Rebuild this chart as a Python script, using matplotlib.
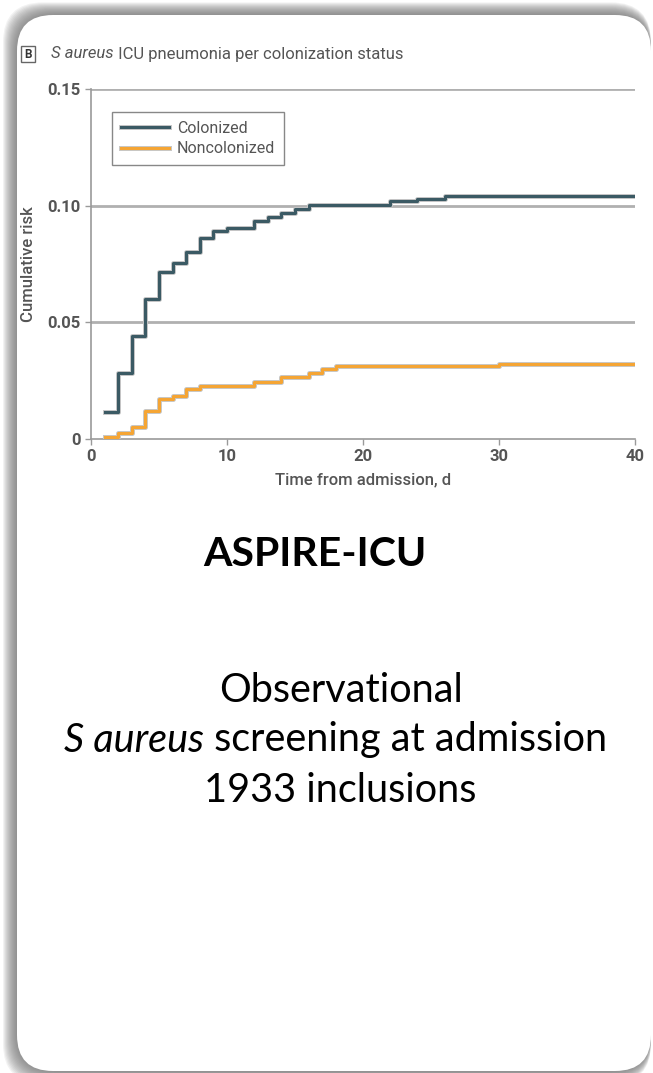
import matplotlib.pyplot as plt
import matplotlib.patheffects as pe
from matplotlib.patches import FancyBboxPatch, Rectangle

# Kaplan-Meier style cumulative risk
col_days = [1, 2, 3, 4, 5, 6, 7, 8, 9, 10, 12, 13, 14, 15, 16, 22, 24, 26, 40]
col_risk = [0.0114, 0.0283, 0.044, 0.0598, 0.0714, 0.0753, 0.080, 0.0862, 0.0893, 0.0905,
            0.0936, 0.0953, 0.097, 0.0986, 0.1004, 0.1018, 0.1028, 0.104, 0.104]

non_days = [1, 2, 3, 4, 5, 6, 7, 8, 12, 14, 16, 17, 18, 30, 40]
non_risk = [0.0007, 0.0027, 0.005, 0.0121, 0.0171, 0.0184, 0.0215, 0.0226, 0.0244,
            0.0264, 0.0283, 0.0298, 0.0312, 0.0323, 0.0323]

x_ticks = [0, 10, 20, 30, 40]
y_ticks = [0, 0.05, 0.10, 0.15]
y_tick_labels = ["0", "0.05", "0.10", "0.15"]

chart_font = ["Roboto", "DejaVu Sans"]
slide_font = ["Lato", "DejaVu Sans"]
grey_txt = "#555555"

W, H = 653, 1073
fig = plt.figure(figsize=(W / 100, H / 100), dpi=100)
renderer = fig.canvas.get_renderer()

# background layer in pixel coords
bg = fig.add_axes([0, 0, 1, 1])
bg.set_xlim(0, W)
bg.set_ylim(H, 0)
bg.axis("off")


def text_width(t):
    bb = t.get_window_extent(renderer=renderer)
    return bb.width


def two_part(x, y, first, rest, size, font, color, center=False, weight="normal"):
    # italic first part followed by upright rest, on one baseline
    a = bg.text(0, y, first, ha="left", va="center", fontsize=size, family=font,
                style="italic", color=color, zorder=4, fontweight=weight)
    b = bg.text(0, y, rest, ha="left", va="center", fontsize=size, family=font,
                color=color, zorder=4, fontweight=weight)
    wa, wb = text_width(a), text_width(b)
    x0 = x - (wa + wb) / 2 if center else x
    a.set_x(x0)
    b.set_x(x0 + wa)


# soft shadow behind the card
for i in range(14):
    grow = 14 - i
    bg.add_patch(FancyBboxPatch((17 - grow, 15 - grow * 0.9), 634 + grow, 1056 + grow * 1.8,
                                boxstyle="round,pad=0,rounding_size=40",
                                fc="#707070", ec="none", alpha=0.09, zorder=1))
bg.add_patch(FancyBboxPatch((17, 15), 634, 1056, boxstyle="round,pad=0,rounding_size=36",
                            fc="white", ec="none", zorder=2))

# panel heading
bg.add_patch(Rectangle((21, 46), 14, 16, fc="white", ec="#666666", lw=1, zorder=3))
bg.text(28, 54.5, "B", ha="center", va="center", fontsize=8.5, fontweight="bold",
        family=chart_font, color="#333333", zorder=4)
two_part(51, 54, "S aureus", " ICU pneumonia per colonization status", 12, chart_font,
         grey_txt)

# slide text
bg.text(315, 555, "ASPIRE-ICU", ha="center", va="center", fontsize=29.5, fontweight="bold",
        family=slide_font, color="black", zorder=4)
bg.text(341, 690, "Observational", ha="center", va="center", fontsize=28.5,
        family=slide_font, color="black", zorder=4)
two_part(336, 740, "S aureus", " screening at admission", 28.5, slide_font, "black",
         center=True)
bg.text(340, 791, "1933 inclusions", ha="center", va="center", fontsize=28.5,
        family=slide_font, color="black", zorder=4)

# the chart itself
ax = fig.add_axes([91 / W, 1 - 439 / H, 544 / W, 350 / H])
ax.set_facecolor("none")
ax.set_xlim(0, 40)
ax.set_ylim(0, 0.15)

for y in y_ticks[1:]:
    ax.axhline(y, color="#b0b0b0", lw=2, zorder=1)

halo = [pe.Stroke(linewidth=3.6, foreground="#c8c8c8"), pe.Normal()]
ax.step(col_days, col_risk, where="post", color="#3b5a64", lw=2.2, label="Colonized",
        path_effects=halo, zorder=3)
ax.step(non_days, non_risk, where="post", color="#f5a534", lw=2.2, label="Noncolonized",
        path_effects=halo, zorder=3)

ax.set_xticks(x_ticks)
ax.set_yticks(y_ticks)
ax.set_yticklabels(y_tick_labels)
for spine in ["top", "right"]:
    ax.spines[spine].set_visible(False)
for spine in ["left", "bottom"]:
    ax.spines[spine].set_color("#9a9a9a")
    ax.spines[spine].set_linewidth(1.2)
ax.tick_params(colors="#9a9a9a", length=4, width=1, labelcolor=grey_txt, labelsize=12)
for lbl in ax.get_xticklabels() + ax.get_yticklabels():
    lbl.set_family(chart_font)
    lbl.set_fontweight("bold")

ax.set_xlabel("Time from admission, d", family=chart_font, fontsize=12, color=grey_txt,
              fontweight="medium", labelpad=6)
ax.set_ylabel("Cumulative risk", family=chart_font, fontsize=12, color=grey_txt,
              fontweight="medium", labelpad=8)

leg = ax.legend(loc="upper left", bbox_to_anchor=(0.0386, 0.934), borderaxespad=0,
                fancybox=False, edgecolor="#888888", framealpha=1, handlelength=3.0,
                prop={"family": chart_font, "size": 11.5}, borderpad=0.55, labelspacing=0.35,
                handletextpad=0.5)
leg.get_frame().set_linewidth(1)
for t in leg.get_texts():
    t.set_color(grey_txt)

fig.savefig("out.png", dpi=100)
